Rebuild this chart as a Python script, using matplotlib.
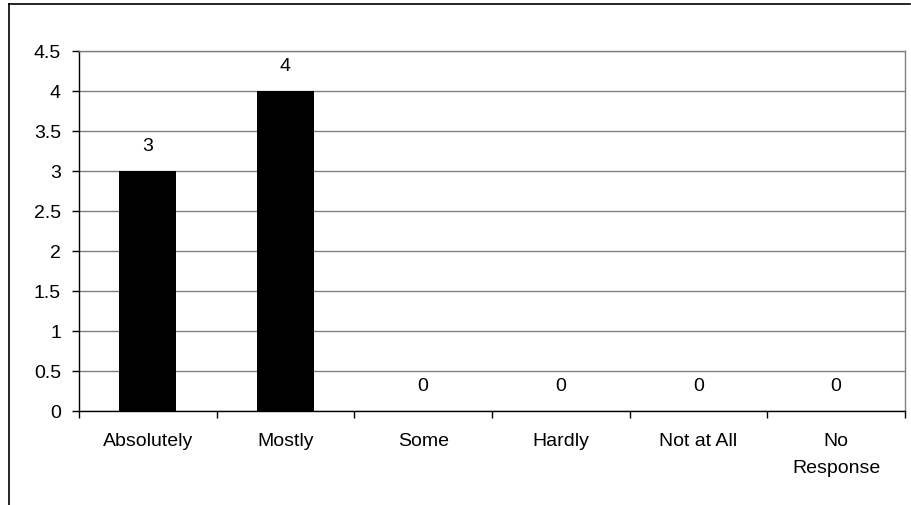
import matplotlib
matplotlib.use("Agg")
import matplotlib.pyplot as plt
from matplotlib.lines import Line2D
import numpy as np

categories = ["Absolutely", "Mostly", "Some", "Hardly", "Not at All", "No\nResponse"]
counts = [3, 4, 0, 0, 0, 0]
yticks = [0, 0.5, 1, 1.5, 2, 2.5, 3, 3.5, 4, 4.5]

plt.rcParams['font.family'] = ['Liberation Sans', 'DejaVu Sans']

fig = plt.figure(figsize=(9.12, 5.06), dpi=100)
ax = fig.add_axes([79/912, 94/506, 826/912, 360/506])

x = np.arange(len(categories))
ax.bar(x, counts, width=0.415, color='black', zorder=3)

for xi, v in zip(x, counts):
    ax.annotate(str(v), (xi, v), xytext=(0, 12), textcoords='offset points',
                ha='center', va='bottom', fontsize=14)

ax.set_xlim(-0.5, len(categories) - 0.5)
ax.set_ylim(0, 4.5)
ax.set_yticks(yticks)
ax.set_yticklabels([f"{t:g}" for t in yticks], fontsize=14)
ax.yaxis.grid(True, color='#808080', linewidth=1, zorder=0)

ax.set_xticks(x)
ax.set_xticklabels(categories, fontsize=14, linespacing=1.8)
ax.tick_params(axis='x', which='major', length=0, pad=15)
ax.set_xticks(np.arange(-0.5, len(categories)), minor=True)
ax.tick_params(axis='x', which='minor', length=5, color='black', width=1)
ax.tick_params(axis='y', length=5, width=1, pad=8)

ax.spines['left'].set_color('black')
ax.spines['bottom'].set_color('black')
ax.spines['top'].set_color('#808080')
ax.spines['right'].set_color('#808080')
for s in ax.spines.values():
    s.set_linewidth(1)

# outer chart frame, only top and left edges fall inside the picture
fig.add_artist(Line2D([9/912, 9/912], [0, 1 - 5/506], transform=fig.transFigure,
                      color='black', linewidth=1.2))
fig.add_artist(Line2D([9/912, 910/912], [1 - 5/506, 1 - 5/506], transform=fig.transFigure,
                      color='black', linewidth=1.2))

fig.savefig("out.png", dpi=100)
